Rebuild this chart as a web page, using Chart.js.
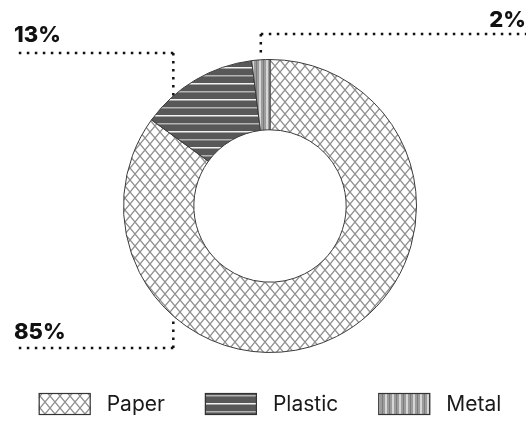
<!DOCTYPE html>
<html>
<head>
<meta charset="utf-8">
<script src="https://cdn.jsdelivr.net/npm/chart.js@4"></script>
<style>
  html, body { margin: 0; padding: 0; background: #fff; }
  #wrap { width: 532px; height: 425px; position: relative; }
</style>
</head>
<body>
<div id="wrap"><canvas id="c" width="532" height="425"></canvas></div>
<script>
// Waste composition by material
const categories = ['Paper', 'Plastic', 'Metal'];
const shares = [85, 13, 2];
const shareLabels = ['85%', '13%', '2%'];

const FONT = 'Inter, "Open Sans", sans-serif';
const canvas = document.getElementById('c');
const ctx = canvas.getContext('2d');

function makePattern(w, h, paint) {
  const t = document.createElement('canvas');
  t.width = w; t.height = h;
  paint(t.getContext('2d'), w, h);
  return ctx.createPattern(t, 'repeat');
}

// Paper: grey lattice on white
const paperFill = makePattern(10, 12, (g, w, h) => {
  g.fillStyle = '#ffffff'; g.fillRect(0, 0, w, h);
  g.strokeStyle = '#8f8f8f'; g.lineWidth = 1.3;
  g.beginPath();
  g.moveTo(0, 0); g.lineTo(w, h);
  g.moveTo(w, 0); g.lineTo(0, h);
  g.stroke();
});
// Plastic: dark grey with horizontal rules
const plasticFill = makePattern(8, 16, (g, w, h) => {
  g.fillStyle = '#585858'; g.fillRect(0, 0, w, h);
  g.fillStyle = '#f2f2f2'; g.fillRect(0, 3, w, 1.5);
  g.fillStyle = '#b4b4b4'; g.fillRect(0, 11, w, 1.5);
});
// Metal: mid grey with vertical stripes
const metalFill = makePattern(7, 8, (g, w, h) => {
  g.fillStyle = '#9c9c9c'; g.fillRect(0, 0, w, h);
  g.fillStyle = '#d6d6d6'; g.fillRect(0, 0, 2, h);
  g.fillStyle = '#7c7c7c'; g.fillRect(4, 0, 1, h);
});
const fills = [paperFill, plasticFill, metalFill];

// Leader lines with percentage labels, plus the legend row
const annotate = {
  id: 'annotate',
  afterDraw(chart) {
    const c = chart.ctx;
    const arcs = chart.getDatasetMeta(0).data;
    const area = chart.chartArea;
    const cx = arcs[0].x, cy = arcs[0].y, R = arcs[0].outerRadius;
    const leftX = 14, rightX = 526;

    function dotted(points) {
      c.save();
      c.strokeStyle = '#111';
      c.lineWidth = 2.5;
      c.setLineDash([2.5, 5.5]);
      c.beginPath();
      c.moveTo(points[0][0], points[0][1]);
      for (let i = 1; i < points.length; i++) c.lineTo(points[i][0], points[i][1]);
      c.stroke();
      c.restore();
    }
    function label(text, x, y, align) {
      c.save();
      c.fillStyle = '#111';
      c.font = '800 22px ' + FONT;
      c.textAlign = align;
      c.textBaseline = 'alphabetic';
      c.fillText(text, x, y);
      c.restore();
    }

    // Metal: from the middle of its outer edge up and across to the right
    const m = arcs[2];
    const mid = (m.startAngle + m.endAngle) / 2;
    const mx = cx + Math.cos(mid) * R, my = cy + Math.sin(mid) * R;
    const topY = area.top - 25;
    dotted([[mx, topY], [rightX, topY]]);
    dotted([[mx, topY], [mx, my - 2]]);
    label(shareLabels[2], rightX, topY - 7, 'right');

    // Plastic and Paper: vertical leaders on a shared x left of centre
    const lx = cx - 0.66 * R;
    const dy = Math.sqrt(R * R - (cx - lx) * (cx - lx));
    const upY = area.top - 6;
    dotted([[lx, upY], [leftX, upY]]);
    dotted([[lx, upY], [lx, cy - dy + 2]]);
    label(shareLabels[1], leftX, upY - 11, 'left');

    const lowY = area.bottom - 5;
    dotted([[lx, lowY], [leftX, lowY]]);
    dotted([[lx, lowY], [lx, cy + dy + 4]]);
    label(shareLabels[0], leftX, lowY - 9, 'left');

    // Legend
    const boxW = 52, boxH = 22, gapText = 16, gapItem = 40;
    c.save();
    c.font = '21px ' + FONT;
    const widths = categories.map(t => boxW + gapText + c.measureText(t).width);
    const total = widths.reduce((a, b) => a + b, 0) + gapItem * (categories.length - 1);
    let x = cx - total / 2;
    const by = 393;
    categories.forEach((name, i) => {
      c.fillStyle = fills[i];
      c.fillRect(x, by, boxW, boxH);
      c.strokeStyle = '#333';
      c.lineWidth = 1.2;
      c.strokeRect(x + 0.5, by + 0.5, boxW - 1, boxH - 1);
      c.fillStyle = '#1a1a1a';
      c.textAlign = 'left';
      c.textBaseline = 'middle';
      c.fillText(name, x + boxW + gapText, by + boxH / 2 + 1);
      x += widths[i] + gapItem;
    });
    c.restore();
  }
};

new Chart(canvas, {
  type: 'doughnut',
  data: {
    labels: categories,
    datasets: [{
      data: shares,
      backgroundColor: fills,
      borderColor: '#3a3a3a',
      borderWidth: 1,
      hoverOffset: 0
    }]
  },
  options: {
    responsive: false,
    animation: false,
    cutout: '52%',
    layout: { padding: { top: 59, bottom: 72, left: 8, right: 0 } },
    plugins: {
      legend: { display: false },
      tooltip: { enabled: false }
    },
    events: []
  },
  plugins: [annotate]
});
</script>
</body>
</html>
